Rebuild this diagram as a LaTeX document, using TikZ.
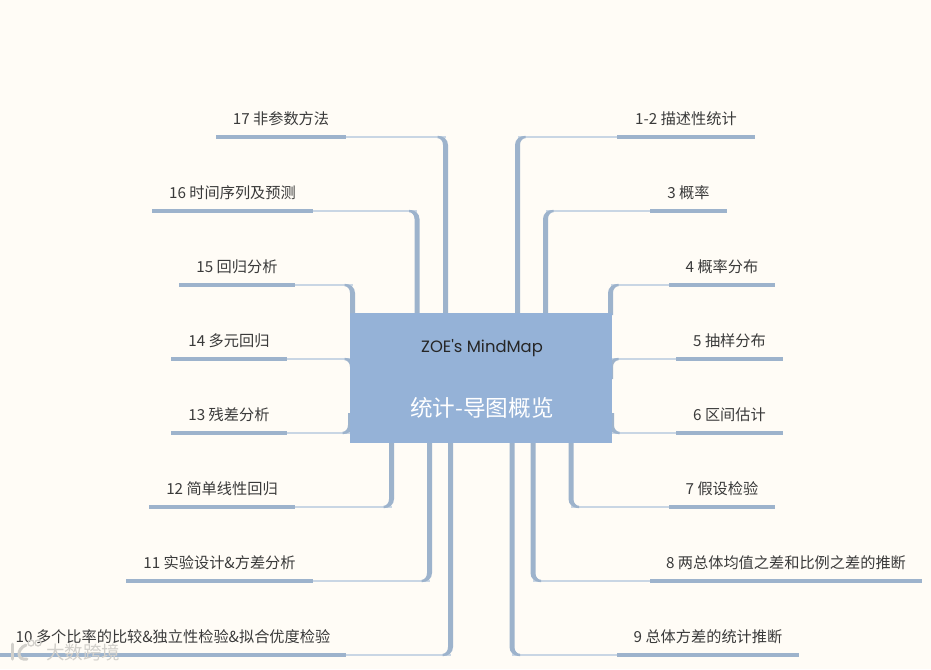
\documentclass[tikz,border=0pt]{standalone}
\usepackage{fontspec}
\usetikzlibrary{calc}
\setmainfont{Noto Sans CJK SC}
\newfontfamily\latinfont{Poppins}
\definecolor{bgc}{HTML}{FFFCF6}
\definecolor{boxc}{HTML}{95B2D7}
\definecolor{linec}{HTML}{9DB3CC}
\definecolor{thinc}{HTML}{C9D6E4}
\definecolor{txtc}{HTML}{3A3A3A}
\definecolor{wmc}{HTML}{D2D0CB}
\tikzset{
  lbl/.style={inner sep=0pt,outer sep=0pt,minimum height=36pt,text=txtc,font=\fontsize{15.2}{17}\selectfont},
  underl/.style={draw=linec,line width=4pt},
  thinl/.style={draw=thinc,line width=2.4pt},
  thickf/.style={fill=linec},
  centerbox/.style={fill=boxc,minimum width=261.5pt,minimum height=130pt,inner sep=0pt,outer sep=0pt},
  wm/.style={inner sep=0pt,text=wmc,font=\fontsize{18.5}{20}\selectfont},
  wmlogo/.style={draw=wmc,line width=3pt,line cap=round}
}
% name, x1, x2, underline y, text, vertical x, edge distance, near-end (west/east), xdir
\newcommand{\branchtip}[9]{%
  \path (#2,#4) coordinate (#1-a) (#3,#4) coordinate (#1-b);
  \node[lbl,minimum width=#3pt-#2pt,anchor=south] (#1) at ($(#1-a)!0.5!(#1-b)$) {#5};
  \draw[underl] (#1.south west) -- (#1.south east);
  \coordinate (#1-c) at (#6,#4);
  \draw[thinl] (#1.south #8) -- (#1-c);
  \begin{scope}[shift={(#1-c)},xscale=#9,yscale=\branchdy]
    \fill[thickf] (-2.5,#7) -- (-2.5,8) .. controls (-2.5,2.5) and (2,-1.2) .. (8,-1.2) -- (8,1.2)
      .. controls (5,1.2) and (2.5,4) .. (2.5,8) -- (2.5,#7) -- cycle;
  \end{scope}
}
\begin{document}
\begin{tikzpicture}[x=1pt,y=-1pt]
\useasboundingbox (0,0) rectangle (931,669);
\fill[bgc] (0,0) rectangle (931,669);
\def\branchdy{1}
% the vertical runs downward (towards the box) from the corner
\branchtip{b1}{617}{755}{137}{1-2 描述性统计}{517.5}{180}{west}{1}
\branchtip{b3}{650}{727}{211}{3 概率}{545.5}{105}{west}{1}
\branchtip{b4}{669}{775}{285}{4 概率分布}{610.5}{30}{west}{1}
\branchtip{b5}{676}{783}{359}{5 抽样分布}{610.5}{20}{west}{1}
\branchtip{b17}{216}{346}{137}{17 非参数方法}{445.5}{180}{east}{-1}
\branchtip{b16}{152}{313}{211}{16 时间序列及预测}{417}{105}{east}{-1}
\branchtip{b15}{179}{295}{285}{15 回归分析}{352.5}{30}{east}{-1}
\branchtip{b14}{171}{287}{359}{14 多元回归}{352.5}{20}{east}{-1}
% the vertical runs upward (towards the box) from the corner
\def\branchdy{-1}
\branchtip{b6}{676}{783}{433}{6 区间估计}{611.5}{20}{west}{1}
\branchtip{b7}{669}{775}{507}{7 假设检验}{571}{66}{west}{1}
\branchtip{b8}{650}{922}{581}{8 两总体均值之差和比例之差的推断}{533}{140}{west}{1}
\branchtip{b9}{617}{799}{655}{9 总体方差的统计推断}{512}{214}{west}{1}
\branchtip{b13}{171}{287}{433}{13 残差分析}{350.5}{20}{east}{-1}
\branchtip{b12}{149}{295}{507}{12 简单线性回归}{391.5}{66}{east}{-1}
\branchtip{b11}{126}{313}{581}{11 实验设计\&方差分析}{429.5}{140}{east}{-1}
\branchtip{b10}{0}{346}{655}{10 多个比率的比较\&独立性检验\&拟合优度检验}{450.5}{214}{east}{-1}
% centre
\node[centerbox] (hub) at (481,378) {};
\node[inner sep=0pt,text=black!85,font=\latinfont\fontsize{16.4}{18}\selectfont] (hubtop) at (482,348) {ZOE's MindMap};
\node[inner sep=0pt,text=white,font=\fontsize{22.6}{25}\selectfont] (hubbot) at (482,408) {统计-导图概览};
% watermark
\node[wm,anchor=west] (wmtext) at (46,652) {大数跨境};
\draw[wmlogo] (12,644) -- (12,659);
\draw[wmlogo] (26,645) .. controls (16,649) and (17,661) .. (27,659);
\draw[wmlogo,line width=1.3pt] (31,643) circle (3);
\draw[wmlogo,line width=1.3pt] (38,643) circle (3);
\end{tikzpicture}
\end{document}
